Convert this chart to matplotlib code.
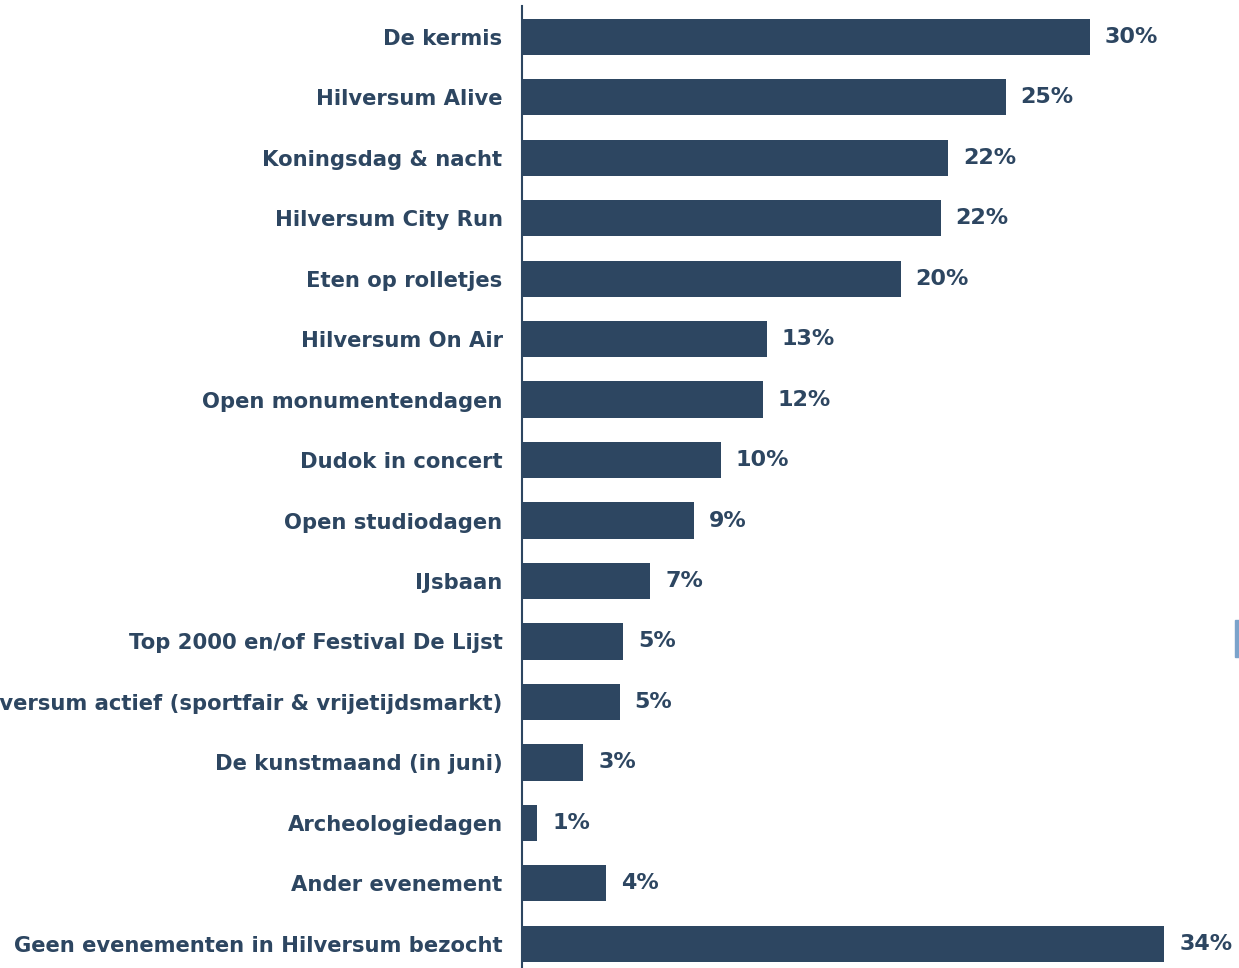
import matplotlib
matplotlib.use("Agg")
import matplotlib.pyplot as plt
from matplotlib.patches import Rectangle

categories = [
    "De kermis", "Hilversum Alive", "Koningsdag & nacht", "Hilversum City Run",
    "Eten op rolletjes", "Hilversum On Air", "Open monumentendagen", "Dudok in concert",
    "Open studiodagen", "IJsbaan", "Top 2000 en/of Festival De Lijst",
    "Hilversum actief (sportfair & vrijetijdsmarkt)", "De kunstmaand (in juni)",
    "Archeologiedagen", "Ander evenement", "Geen evenementen in Hilversum bezocht",
]
values = [29.7, 25.3, 22.3, 21.9, 19.8, 12.8, 12.6, 10.4, 9.0, 6.7, 5.3, 5.1, 3.2, 0.8, 4.4, 33.6]
value_labels = ["30%", "25%", "22%", "22%", "20%", "13%", "12%", "10%", "9%", "7%",
                "5%", "5%", "3%", "1%", "4%", "34%"]

NAVY = "#2D4661"
W, H, DPI = 1239, 968, 100
fig = plt.figure(figsize=(W / DPI, H / DPI), dpi=DPI)
ax = fig.add_axes([522 / W, 0, (W - 522) / W, (968 - 6) / H])

pos = list(range(len(categories)))
ax.barh(pos, values, height=0.6, color=NAVY)
ax.set_ylim(15.4, -0.51)
ax.set_xlim(0, 37.5)

for p, v, lab in zip(pos, values, value_labels):
    ax.annotate(lab, (v, p), xytext=(15 * 72 / DPI, 0), textcoords="offset points",
                ha="left", va="center", fontsize=16, fontweight="bold", color=NAVY)

ax.set_yticks(pos)
ax.set_yticklabels(categories, fontsize=15.2, fontweight="bold", color=NAVY)
ax.tick_params(axis="y", length=0, pad=14)
ax.set_xticks([])
for s in ["top", "right", "bottom"]:
    ax.spines[s].set_visible(False)
ax.spines["left"].set_color(NAVY)
ax.spines["left"].set_linewidth(1.5)

fig.patches.append(Rectangle((1235 / W, 1 - 657 / H), 4 / W, 37 / H,
                             transform=fig.transFigure, color="#7BA3CB"))

fig.savefig("out.png", dpi=DPI)
